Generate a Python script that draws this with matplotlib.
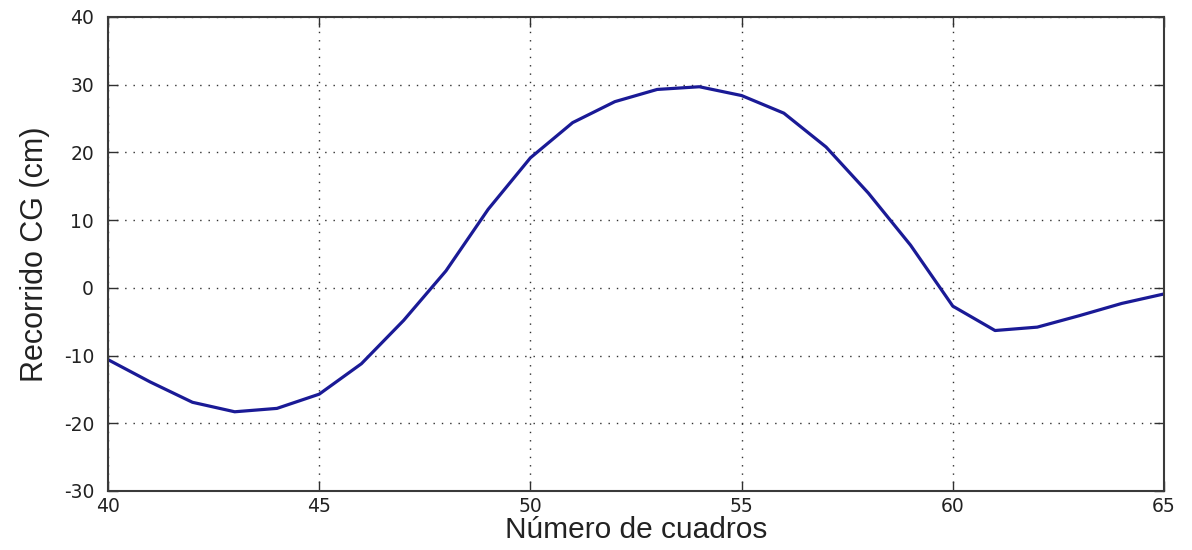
import matplotlib
matplotlib.use("Agg")
import matplotlib.pyplot as plt

plt.rcParams["axes.unicode_minus"] = False

# centre-of-gravity travel per frame
frames = list(range(40, 66))
cg_cm = [-10.6, -13.9, -16.9, -18.3, -17.8, -15.7, -11.2, -4.8, 2.5, 11.6,
         19.2, 24.4, 27.5, 29.3, 29.7, 28.4, 25.8, 20.8, 14.0, 6.3,
         -2.7, -6.3, -5.8, -4.1, -2.3, -0.9]

x_ticks = [40, 45, 50, 55, 60, 65]
y_ticks = [-30, -20, -10, 0, 10, 20, 30, 40]

W, H = 1192, 550
fig = plt.figure(figsize=(W / 100, H / 100), dpi=100)
ax = fig.add_axes([108 / W, 59 / H, 1056 / W, 474 / H])

ax.plot(frames, cg_cm, color="#1a1a96", lw=2.3, solid_joinstyle="round")

ax.set_xlim(40, 65)
ax.set_ylim(-30, 40)
ax.set_xticks(x_ticks)
ax.set_yticks(y_ticks)

ax.grid(True, color="#303030", linestyle=(0, (1, 5)), linewidth=1.0)
ax.tick_params(direction="in", length=7, width=1.0, color="#303030",
               top=True, right=True, labelsize=13.5, labelcolor="#222222")
ax.tick_params(axis="y", pad=10)
ax.tick_params(axis="x", pad=4)
for lab in ax.get_xticklabels() + ax.get_yticklabels():
    lab.set_fontfamily("DejaVu Sans")

for sp in ax.spines.values():
    sp.set_color("#3a3a3a")
    sp.set_linewidth(1.5)

ax.set_xlabel("Número de cuadros", fontsize=21.5, family="Liberation Sans",
              color="#222222", labelpad=0)
ax.set_ylabel("Recorrido CG (cm)", fontsize=22, family="Liberation Sans",
              color="#222222", labelpad=10)

fig.savefig("out.png", dpi=100)
